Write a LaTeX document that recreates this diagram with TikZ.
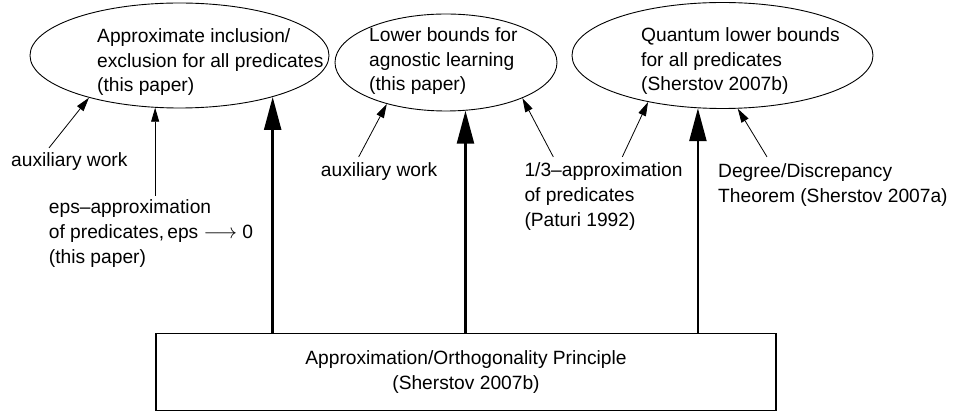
\documentclass[tikz,border=0pt]{standalone}
\usepackage{fontspec}
\setmainfont{Liberation Sans}
\usetikzlibrary{shapes.geometric,arrows.meta}

\begin{document}
\begin{tikzpicture}[x=1pt,y=-1pt,font=\fontsize{19.2}{24.6}\selectfont,
  goal node/.style={ellipse,draw,line width=0.9pt,inner sep=0pt},
  note/.style={align=left,inner sep=0pt,anchor=base west},
  thin arrow/.style={-{Triangle[length=14pt,width=8pt]},line width=0.8pt},
  main arrow/.style={-{Triangle[length=33pt,width=17pt]},line width=2.4pt}]
                \useasboundingbox (0,0) rectangle (953,411);

                \node[goal node, minimum width=299pt, minimum height=105pt] (incl) at (179.5,55.5) {};
                \node[goal node, minimum width=222pt, minimum height=97pt] (agn) at (446,62.5) {};
                \node[goal node, minimum width=301pt, minimum height=106pt] (quant) at (722.5,55.5) {};

                \node[note] (incltext) at (97,91.9) {Approximate inclusion/\\exclusion for all predicates\\(this paper)};
                \node[note] (agntext) at (369,90.9) {Lower bounds for\\agnostic learning\\(this paper)};
                \node[note] (quanttext) at (641,90.9) {Quantum lower bounds\\for all predicates\\(Sherstov 2007b)};

                \node[draw, line width=1.2pt, minimum width=620pt, minimum height=76.5pt, align=center, inner sep=0pt] (aop) at (466,372) {Approximation/Orthogonality Principle\\(Sherstov 2007b)};

                \node[note] (aux1) at (11,167) {auxiliary work};
                \node[note] (eps) at (48.7,263.2) {eps–approximation\\of predicates,\,eps $\longrightarrow$ 0\\(this paper)};
                \node[note] (aux2) at (320.7,177) {auxiliary work};
                \node[note] (pat) at (524.3,226.2) {1/3–approximation\\of predicates\\(Paturi 1992)};
                \node[note] (deg) at (718,202.6) {Degree/Discrepancy\\Theorem (Sherstov 2007a)};

                \path[thin arrow]
                    ([shift={(38pt,5pt)}]aux1.north west) edge (incl.205)
                    ([yshift=4pt]incl.245.3 |- eps.north) edge (incl.245.3)
                    ([shift={(38pt,6pt)}]aux2.north west) edge (agn.215)
                    ([shift={(29pt,6pt)}]pat.north west) edge (agn.335)
                    ([shift={(98pt,6pt)}]pat.north west) edge (quant.212)
                    ([shift={(49pt,7pt)}]deg.north west) edge (quant.286.4)
                ;

                \path[main arrow]
                    (aop.north -| incl.336) edge (incl.336)
                    (aop.north -| agn.292.7) edge (agn.292.7)
                    (aop.north -| quant.245.8) edge (quant.245.8)
                ;
            \end{tikzpicture}
\end{document}
